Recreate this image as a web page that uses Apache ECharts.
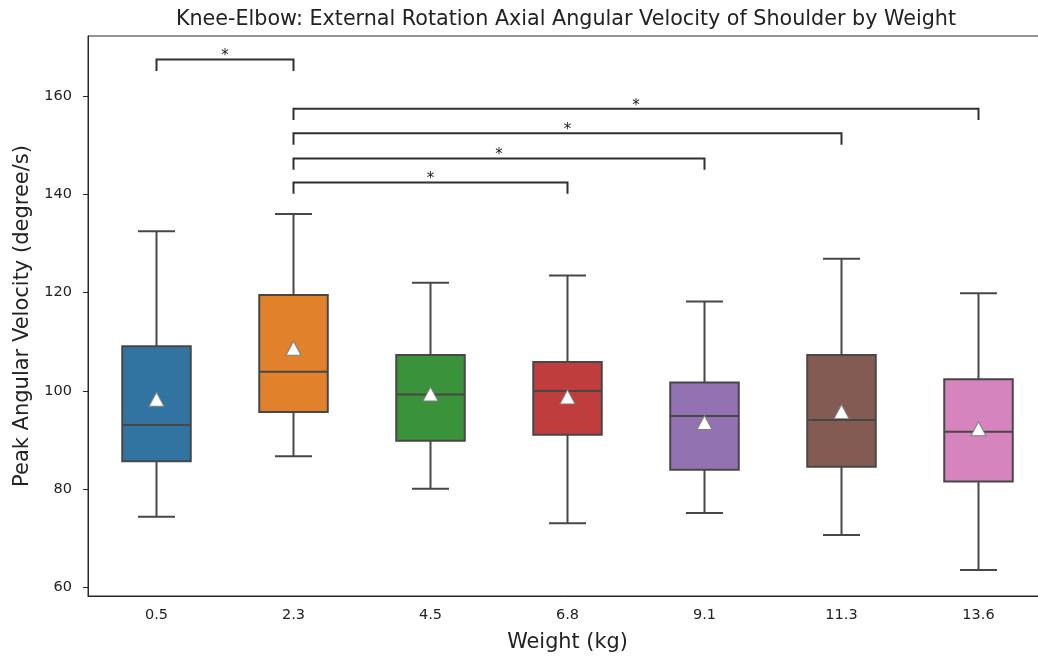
<!DOCTYPE html>
<html>
<head>
<meta charset="utf-8">
<script src="https://cdn.jsdelivr.net/npm/echarts@6/dist/echarts.min.js"></script>
<style>
html,body{margin:0;padding:0;background:#fff;}
#chart{width:1038px;height:658px;}
</style>
</head>
<body>
<div id="chart"></div>
<script>
// ---- data ----
const categories = ['0.5', '2.3', '4.5', '6.8', '9.1', '11.3', '13.6'];
const whiskerLow  = [74.4, 86.7, 80.1, 73.1, 75.2, 70.7, 63.6];
const q1          = [85.7, 95.7, 89.9, 91.1, 84.0, 84.6, 81.6];
const median      = [93.1, 103.9, 99.3, 100.0, 94.9, 94.1, 91.7];
const q3          = [109.1, 119.5, 107.3, 105.9, 101.7, 107.3, 102.4];
const whiskerHigh = [132.5, 136.0, 122.0, 123.5, 118.2, 126.9, 119.9];
const means       = [98.3, 108.7, 99.4, 98.8, 93.6, 95.8, 92.3];
const yTicks      = [60, 80, 100, 120, 140, 160];
const bracketFrom  = [0, 1, 1, 1, 1];
const bracketTo    = [1, 3, 4, 5, 6];
const bracketY     = [167.4, 142.4, 147.3, 152.4, 157.4];
const bracketLabel = ['*', '*', '*', '*', '*'];

// ---- style ----
const palette = ['#3274a1', '#e1812c', '#3a923a', '#c03d3e', '#9372b2', '#845b53', '#d684bd'];
const lineGray = '#474747';
const FONT = 'DejaVu Sans';
const tickDrop = 2.3;

const boxData = categories.map((c, i) => [i, whiskerLow[i], q1[i], median[i], q3[i], whiskerHigh[i]]);
const meanData = categories.map((c, i) => [i, means[i]]);
const bracketData = bracketFrom.map((f, i) => [f, bracketTo[i], bracketY[i], bracketLabel[i]]);

const chart = echarts.init(document.getElementById('chart'), null, {renderer: 'canvas'});

const option = {
  backgroundColor: '#fff',
  animation: false,
  textStyle: {fontFamily: FONT},
  title: {
    text: 'Knee-Elbow: External Rotation Axial Angular Velocity of Shoulder by Weight',
    left: 561, top: 4, textAlign: 'center',
    textStyle: {fontFamily: FONT, fontSize: 20.7, fontWeight: 'normal', color: '#222'}
  },
  grid: {
    left: 88, width: 959, top: 36, bottom: 62,
    containLabel: false,
    outerBoundsMode: 'none',
    show: true, borderColor: '#262626', borderWidth: 1, backgroundColor: 'transparent'
  },
  xAxis: {
    type: 'category',
    data: categories,
    boundaryGap: true,
    name: 'Weight (kg)',
    nameLocation: 'middle',
    nameGap: 36,
    nameTextStyle: {fontFamily: FONT, fontSize: 20.8, color: '#222'},
    axisLine: {lineStyle: {color: '#262626', width: 1}},
    axisTick: {alignWithLabel: true, length: 5, lineStyle: {color: '#262626'}},
    axisLabel: {fontFamily: FONT, fontSize: 14.5, color: '#222', margin: 12}
  },
  yAxis: {
    type: 'value',
    min: 58.3, max: 172.2,
    name: 'Peak Angular Velocity (degree/s)',
    nameLocation: 'middle',
    nameGap: 54,
    nameTextStyle: {fontFamily: FONT, fontSize: 21, color: '#222'},
    splitLine: {show: false},
    axisLine: {show: true, lineStyle: {color: '#262626', width: 1}},
    axisTick: {show: true, length: 5, customValues: yTicks, lineStyle: {color: '#262626'}},
    axisLabel: {fontFamily: FONT, fontSize: 14.5, color: '#222', margin: 16, customValues: yTicks}
  },
  series: [
    {
      type: 'custom',
      name: 'box',
      data: boxData,
      encode: {x: 0, y: [1, 2, 3, 4, 5]},
      clip: false,
      z: 2,
      renderItem: function (params, api) {
        const i = api.value(0);
        const band = api.size([1, 0])[0];
        const bw = band * 0.5;
        const cw = band * 0.27;
        const pLow = api.coord([i, api.value(1)]);
        const pQ1 = api.coord([i, api.value(2)]);
        const pMed = api.coord([i, api.value(3)]);
        const pQ3 = api.coord([i, api.value(4)]);
        const pHigh = api.coord([i, api.value(5)]);
        const cx = pMed[0];
        const ls = {stroke: lineGray, lineWidth: 2, fill: null};
        return {
          type: 'group',
          children: [
            {type: 'line', shape: {x1: cx, y1: pQ3[1], x2: cx, y2: pHigh[1]}, style: ls},
            {type: 'line', shape: {x1: cx, y1: pQ1[1], x2: cx, y2: pLow[1]}, style: ls},
            {type: 'line', shape: {x1: cx - cw / 2, y1: pHigh[1], x2: cx + cw / 2, y2: pHigh[1]}, style: ls},
            {type: 'line', shape: {x1: cx - cw / 2, y1: pLow[1], x2: cx + cw / 2, y2: pLow[1]}, style: ls},
            {type: 'rect', shape: {x: cx - bw / 2, y: pQ3[1], width: bw, height: pQ1[1] - pQ3[1]},
              style: {fill: palette[i], stroke: lineGray, lineWidth: 2}},
            {type: 'line', shape: {x1: cx - bw / 2, y1: pMed[1], x2: cx + bw / 2, y2: pMed[1]}, style: ls}
          ]
        };
      }
    },
    {
      type: 'scatter',
      name: 'mean',
      data: meanData,
      symbol: 'triangle',
      symbolSize: [15, 14],
      z: 5,
      itemStyle: {color: '#ffffff', borderColor: '#7f7f7f', borderWidth: 1, opacity: 1}
    },
    {
      type: 'custom',
      name: 'brackets',
      data: bracketData,
      encode: {x: [0, 1], y: 2},
      clip: false,
      z: 3,
      renderItem: function (params, api) {
        const a = api.value(0), b = api.value(1), y = api.value(2);
        const p1 = api.coord([a, y]);
        const p2 = api.coord([b, y]);
        const p1d = api.coord([a, y - tickDrop]);
        const p2d = api.coord([b, y - tickDrop]);
        const lbl = bracketData[params.dataIndex][3];
        return {
          type: 'group',
          children: [
            {type: 'polyline', shape: {points: [p1d, p1, p2, p2d]},
              style: {stroke: '#303030', lineWidth: 2, fill: null}},
            {type: 'text', x: (p1[0] + p2[0]) / 2, y: p1[1] + 4.5,
              style: {text: lbl, fontFamily: FONT, fontSize: 15, fill: '#222', align: 'center', verticalAlign: 'bottom'}}
          ]
        };
      }
    }
  ]
};
chart.setOption(option);
</script>
</body>
</html>
